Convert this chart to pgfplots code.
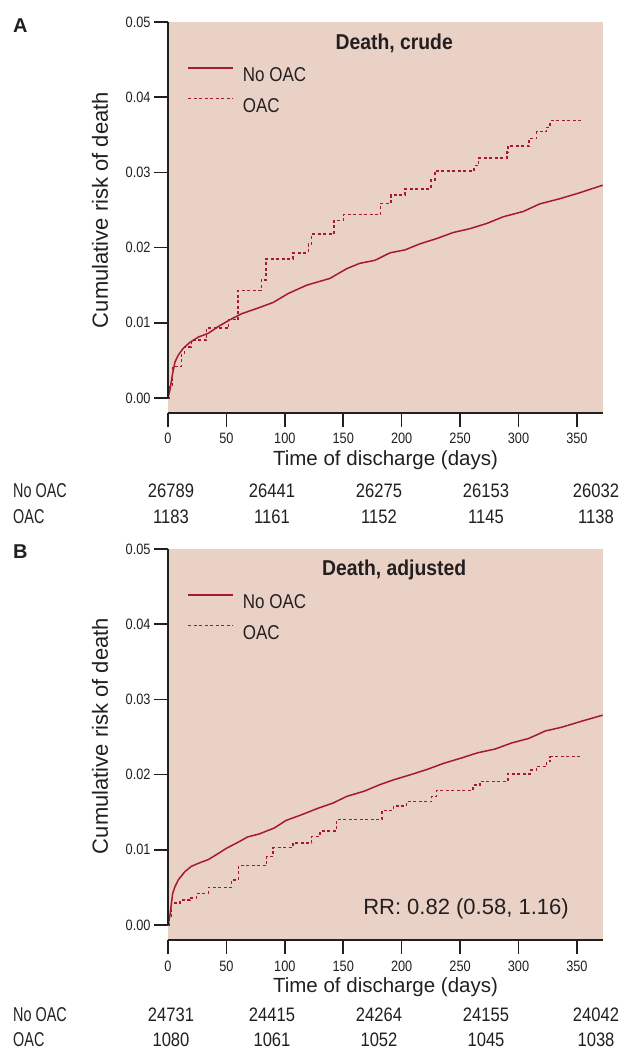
\documentclass[border=0pt]{standalone}
\usepackage{pgfplots}
\pgfplotsset{compat=1.18}
\usepackage{pgfplotstable}
\usepackage{fontspec}
\setmainfont{Liberation Sans}
\newfontfamily\condfont{Liberation Sans}[FakeStretch=0.85]
\newfontfamily\narrowfont{Liberation Sans}[FakeStretch=0.72]
\newfontfamily\titlefont{Liberation Sans}[FakeStretch=0.9]

\definecolor{bgpink}{RGB}{234,209,198}
\definecolor{kmred}{RGB}{166,25,46}
\definecolor{txt}{RGB}{35,31,32}

% time (days), cumulative risk
\pgfplotstableread{
t r
0 0
1.7 0.0011
4 0.0033
6 0.0048
8.8 0.0057
13 0.0066
18.8 0.0074
26 0.0081
34.5 0.0086
43 0.0095
53 0.0104
63 0.0112
76 0.0119
90 0.0127
103 0.0139
118.7 0.0150
138.6 0.0159
153 0.0172
164 0.0179
177 0.0183
190 0.0193
203 0.0197
215.6 0.0205
230 0.0212
244 0.0220
258 0.0225
272.7 0.0232
287 0.0241
304 0.0248
318 0.0258
335.4 0.0265
352.6 0.0273
372 0.0283
}\crudeNo

\pgfplotstableread{
t r
0 0
1.5 0.0017
4 0.0042
11.7 0.0059
14 0.0068
20 0.0077
33 0.0093
52 0.0104
60 0.0143
80 0.0157
84 0.0185
107 0.0193
120 0.0205
123 0.0218
142 0.0236
150 0.0244
182 0.0259
191 0.0270
203 0.0278
225 0.0290
228.5 0.0302
262 0.0309
265.6 0.0319
290 0.0327
291 0.0335
309 0.0345
315.5 0.0354
324 0.0360
327 0.0369
354 0.0369
}\crudeOAC

\pgfplotstableread{
t r
0 0
1.7 0.0013
4 0.0042
6 0.0051
8.8 0.0060
14.5 0.0071
20 0.0078
26 0.0082
34.5 0.0087
43 0.0095
50 0.0102
60 0.0110
68 0.0117
78 0.0121
91 0.0129
101 0.0139
115 0.0147
128 0.0155
141 0.0162
153 0.0171
168 0.0178
182 0.0187
193 0.0193
208 0.0200
222 0.0207
236 0.0215
251 0.0222
265 0.0229
280 0.0234
294 0.0242
308.6 0.0248
322.9 0.0258
337 0.0263
354 0.0271
372 0.0279
}\adjNo

\pgfplotstableread{
t r
0 0
0.9 0.0011
2.9 0.0029
10.3 0.0033
18.8 0.0036
24.5 0.0042
34.5 0.0050
54.5 0.0060
60.2 0.0079
84.5 0.0091
90 0.0103
107 0.0109
123 0.0118
130 0.0125
144 0.0140
183 0.0152
193 0.0158
204 0.0164
225.6 0.0171
230 0.0179
261 0.0186
267 0.0191
291 0.0201
310 0.0206
315.5 0.0211
324 0.0218
327 0.0224
354 0.0224
}\adjOAC

\pgfplotsset{
  kmaxis/.style={
    scale only axis, width=435bp, height=391bp,
    xmin=0, xmax=372.3, ymin=-0.002, ymax=0.05,
    axis x line*=bottom, axis y line*=left,
    axis line style={-, line width=1.6bp, txt},
    y axis line style={draw=none},
    axis background/.style={fill=bgpink},
    xtick={0,50,100,150,200,250,300,350},
    ytick={0,0.01,0.02,0.03,0.04,0.05},
    tick align=outside, major tick length=14bp,
    tick style={line width=1.6bp, txt},
    /pgf/number format/assume math mode=true,
    ticklabel style={font=\condfont\fontsize{15bp}{17bp}\selectfont, text=txt},
    xticklabel style={yshift=-3bp},
    yticklabel style={/pgf/number format/.cd, fixed, fixed zerofill, precision=2},
    scaled y ticks=false,
    clip=false,
    legend style={draw=none, fill=none, at={(rel axis cs:0.044,0.885)},
      anchor=north west, font=\condfont\fontsize{20bp}{22bp}\selectfont,
      text=txt, row sep=16bp, inner sep=0pt, column sep=9bp,
      nodes={inner sep=0pt, text height=14bp, text depth=0bp}},
    legend cell align=left,
    legend image code/.code={\draw[##1] (0bp,7bp) -- (45bp,7bp);},
  },
  nooac/.style={sharp plot, kmred, line width=1.5bp},
  oac/.style={const plot, kmred, line width=1.4bp, dash pattern=on 3bp off 2.5bp},
}

\begin{document}
\begin{tikzpicture}
\path[use as bounding box] (0,0) rectangle (629bp,-1051bp);

% ---- panel A
\begin{axis}[kmaxis, at={(168bp,-413bp)}, anchor=south west]
\addplot[nooac] table[x=t, y=r] {\crudeNo};
\addlegendentry{No OAC}
\addplot[oac] table[x=t, y=r] {\crudeOAC};
\addlegendentry{OAC}
\draw[line width=1.6bp, txt] (axis cs:0,0) -- (axis cs:0,0.05);
\node[anchor=base, font=\titlefont\bfseries\fontsize{21.5bp}{24bp}\selectfont, text=txt]
  at (rel axis cs:0.52,0.93) {Death, crude};
\node[anchor=base, yshift=-52bp, font=\fontsize{20.5bp}{24bp}\selectfont, text=txt]
  at (rel axis cs:0.5,0) {Time of discharge (days)};
\end{axis}

% ---- panel B
\begin{axis}[kmaxis, at={(168bp,-940bp)}, anchor=south west]
\addplot[nooac] table[x=t, y=r] {\adjNo};
\addlegendentry{No OAC}
\addplot[oac] table[x=t, y=r] {\adjOAC};
\addlegendentry{OAC}
\draw[line width=1.6bp, txt] (axis cs:0,0) -- (axis cs:0,0.05);
\node[anchor=base, font=\titlefont\bfseries\fontsize{21.5bp}{24bp}\selectfont, text=txt]
  at (rel axis cs:0.52,0.933) {Death, adjusted};
\node[anchor=base, yshift=-52bp, font=\fontsize{20.5bp}{24bp}\selectfont, text=txt]
  at (rel axis cs:0.5,0) {Time of discharge (days)};
\node[font=\fontsize{22bp}{24bp}\selectfont, text=txt]
  at (rel axis cs:0.685,0.079) {RR: 0.82 (0.58, 1.16)};
\end{axis}

% ---- labels outside the axes
\begin{scope}[every node/.style={text=txt}]
\node[anchor=base west, inner sep=0pt, font=\bfseries\fontsize{20bp}{22bp}\selectfont] at (13bp,-32bp) {A};
\node[anchor=base west, inner sep=0pt, font=\bfseries\fontsize{20bp}{22bp}\selectfont] at (13bp,-558bp) {B};
\node[rotate=90, font=\fontsize{22bp}{24bp}\selectfont] at (100bp,-210bp) {Cumulative risk of death};
\node[rotate=90, font=\fontsize{22bp}{24bp}\selectfont] at (100bp,-736bp) {Cumulative risk of death};

\foreach \yb/\lab in {497/No OAC, 523/OAC, 1021/No OAC, 1046/OAC}
  \node[anchor=base west, inner sep=0pt, font=\narrowfont\fontsize{20bp}{22bp}\selectfont] at (13bp,-\yb bp) {\lab};

\foreach \xc/\n in {171/26789, 272/26441, 379/26275, 486/26153, 596/26032}
  \node[anchor=base, inner sep=0pt, font=\condfont\fontsize{19.5bp}{22bp}\selectfont] at (\xc bp,-497bp) {\n};
\foreach \xc/\n in {171/1183, 272/1161, 379/1152, 486/1145, 596/1138}
  \node[anchor=base, inner sep=0pt, font=\condfont\fontsize{19.5bp}{22bp}\selectfont] at (\xc bp,-523bp) {\n};
\foreach \xc/\n in {171/24731, 272/24415, 379/24264, 486/24155, 596/24042}
  \node[anchor=base, inner sep=0pt, font=\condfont\fontsize{19.5bp}{22bp}\selectfont] at (\xc bp,-1021bp) {\n};
\foreach \xc/\n in {171/1080, 272/1061, 379/1052, 486/1045, 596/1038}
  \node[anchor=base, inner sep=0pt, font=\condfont\fontsize{19.5bp}{22bp}\selectfont] at (\xc bp,-1046bp) {\n};
\end{scope}
\end{tikzpicture}
\end{document}
